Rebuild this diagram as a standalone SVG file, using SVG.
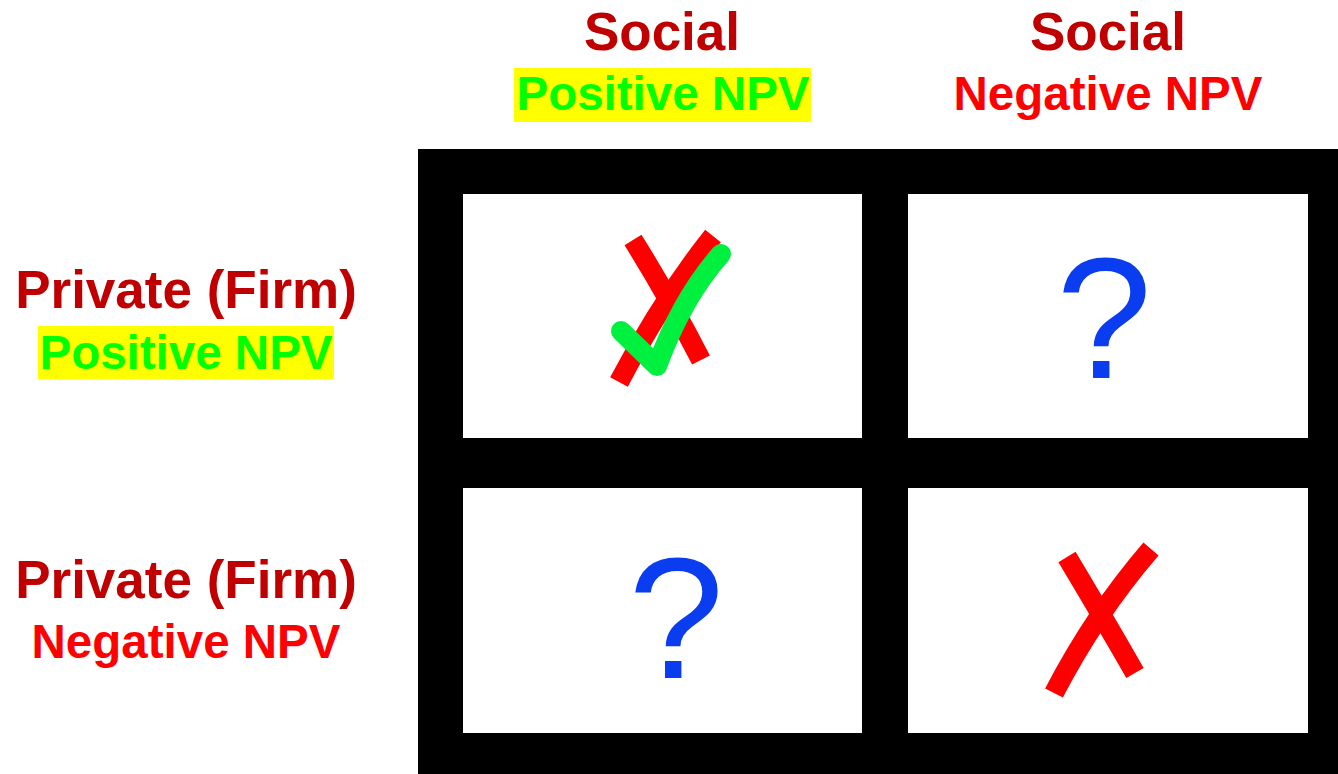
<svg xmlns="http://www.w3.org/2000/svg" width="1338" height="774" viewBox="0 0 1338 774">
  <defs>
    <style>
      .hd { font-family: "Liberation Sans", Arial, sans-serif; font-weight: bold; text-anchor: middle; }
      .dark { fill: #C00000; font-size: 53px; }
      .pos { fill: #00FF00; font-size: 47.5px; }
      .neg { fill: #FF0000; font-size: 47.5px; }
      .hl { fill: #FFFF00; }
      .cell { fill: #FFFFFF; }
      .q { font-family: "Liberation Sans", Arial, sans-serif; font-size: 172px; fill: #0A3CF0; text-anchor: middle; }
      .cross { fill: none; stroke: #FF0000; stroke-width: 20; stroke-linecap: butt; }
      .tick { fill: none; stroke: #00F040; stroke-width: 20; stroke-linecap: round; stroke-linejoin: round; }
    </style>
  </defs>

  <rect width="1338" height="774" fill="#FFFFFF"/>

  <!-- column headings -->
  <g id="col-social-positive">
    <text class="hd dark" x="662" y="50">Social</text>
    <rect class="hl" x="514" y="68" width="297" height="54"/>
    <text class="hd pos" x="663" y="110">Positive NPV</text>
  </g>
  <g id="col-social-negative">
    <text class="hd dark" x="1108" y="50">Social</text>
    <text class="hd neg" x="1108" y="110">Negative NPV</text>
  </g>

  <!-- row headings -->
  <g id="row-private-positive">
    <text class="hd dark" x="186" y="308">Private (Firm)</text>
    <rect class="hl" x="38" y="326" width="296" height="53"/>
    <text class="hd pos" x="186" y="369">Positive NPV</text>
  </g>
  <g id="row-private-negative">
    <text class="hd dark" x="186" y="598">Private (Firm)</text>
    <text class="hd neg" x="186" y="658">Negative NPV</text>
  </g>

  <!-- matrix frame -->
  <g id="frame">
    <rect x="418" y="149" width="920" height="625" fill="#000000"/>
  </g>

  <!-- positive / positive: crossed out, then ticked -->
  <g id="cell-pp">
    <rect class="cell" x="463" y="194" width="399" height="244"/>
    <path class="cross" d="M633 240 Q668 296 701 360"/>
    <path class="cross" d="M713 236 Q662 300 619 382"/>
    <path class="tick" d="M621 331 L657 366 Q682 298 721 254"/>
  </g>

  <!-- positive private / negative social -->
  <g id="cell-pn">
    <rect class="cell" x="908" y="194" width="400" height="244"/>
    <text class="q" x="1104" y="378">?</text>
  </g>

  <!-- negative private / positive social -->
  <g id="cell-np">
    <rect class="cell" x="463" y="488" width="399" height="245"/>
    <text class="q" x="676" y="678">?</text>
  </g>

  <!-- negative / negative -->
  <g id="cell-nn">
    <rect class="cell" x="908" y="488" width="400" height="245"/>
    <path class="cross" d="M1067 557 Q1100 612 1135 673"/>
    <path class="cross" d="M1151 549 Q1095 614 1054 693"/>
  </g>
</svg>
